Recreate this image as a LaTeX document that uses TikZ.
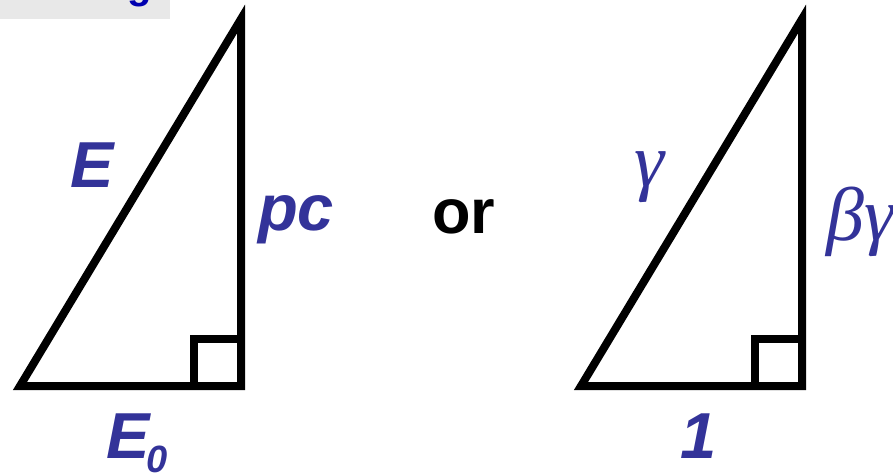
\documentclass[tikz,border=0pt]{standalone}
\usepackage{fontspec}
\setmainfont{Liberation Sans}
\newfontfamily\greekfont{Liberation Serif}
\usepackage{tikz}
\usetikzlibrary{positioning}
\definecolor{labelblue}{RGB}{51,51,153}
\definecolor{titleblue}{RGB}{0,0,176}
\tikzset{
  side/.style={draw=black, line width=8pt},
  lbl/.style={text=labelblue, font=\fontsize{65}{70}\selectfont\bfseries\itshape, inner sep=0pt, anchor=base west},
  glbl/.style={text=labelblue, font=\fontsize{76}{80}\selectfont\greekfont\itshape, inner sep=0pt, anchor=base west},
}

\begin{document}
\begin{tikzpicture}[x=1pt,y=-1pt]
  \def\s{47}
  \useasboundingbox (0,0) rectangle (893,473);
  % strip at the top
  \fill[black!9] (0,0) rectangle (170,19);
  \begin{scope}
    \clip (0,0) rectangle (170,19);
    \node[text=titleblue, font=\fontsize{40}{44}\selectfont\bfseries, inner sep=0pt, anchor=base west] (title) at (127,-1.5) {g};
  \end{scope}
  % left triangle
  \coordinate (A1) at (20,386);
  \coordinate (B1) at (241,386);
  \coordinate (C1) at (241,19);
  \draw[side] (A1) -- (B1) -- (C1) -- cycle;
  \draw[side] ([xshift=-\s pt]B1) |- ([yshift=\s pt]B1);
  % right triangle
  \coordinate (A2) at (581,386);
  \coordinate (B2) at (802,386);
  \coordinate (C2) at (802,19);
  \draw[side] (A2) -- (B2) -- (C2) -- cycle;
  \draw[side] ([xshift=-\s pt]B2) |- ([yshift=\s pt]B2);
  % labels
  \node[lbl] (E) at (70,187) {E};
  \node[lbl] (pc) at (258,230) {pc};
  \node[lbl] (E0) at (106,458) {E\kern-3pt\raisebox{-14pt}{\fontsize{38}{40}\selectfont 0}};
  \node[lbl] (one) at (680,458) {1};
  \node[glbl] (gam) at (634,186) {γ};
  \node[glbl] (bg) at (826,240) {βγ};
  \node[font=\fontsize{63}{70}\selectfont\bfseries, inner sep=0pt, anchor=base west] (or) at (432,233) {or};
\end{tikzpicture}
\end{document}
